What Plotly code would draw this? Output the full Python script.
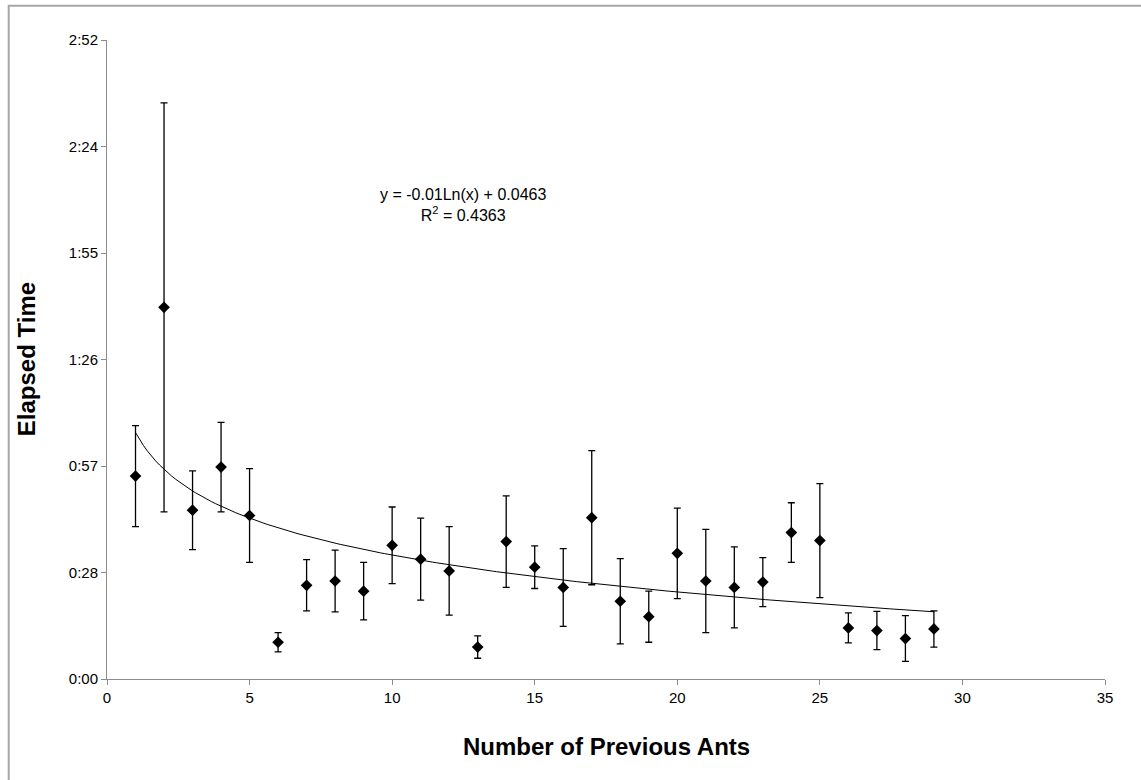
import numpy as np
import plotly.graph_objects as go

# Number of previous ants
ants = list(range(1, 30))
# Mean elapsed time (fraction of a day, shown as h:mm)
elapsed = [0.0381, 0.0698, 0.0317, 0.0398, 0.0307, 0.0069, 0.0176, 0.0184, 0.0165,
           0.0251, 0.0225, 0.0203, 0.0060, 0.0258, 0.0210, 0.0172, 0.0303, 0.0146,
           0.0117, 0.0236, 0.0184, 0.0172, 0.0182, 0.0275, 0.0260, 0.0096, 0.0091,
           0.0076, 0.0094]
# Error bar half-lengths
err = [0.0095, 0.0384, 0.0074, 0.0084, 0.0088, 0.0018, 0.0048, 0.0058, 0.0054,
       0.0072, 0.0077, 0.0083, 0.0021, 0.0086, 0.0040, 0.0073, 0.0126, 0.0080,
       0.0048, 0.0085, 0.0097, 0.0076, 0.0046, 0.0056, 0.0107, 0.0028, 0.0036,
       0.0043, 0.0034]

# Logarithmic trendline shown on the chart
trend_a = -0.01
trend_b = 0.0463
trend_label = "y = -0.01Ln(x) + 0.0463<br>R<sup>2</sup> = 0.4363"

y_tickvals = [0, 0.02, 0.04, 0.06, 0.08, 0.10, 0.12]
y_ticktext = ["0:00", "0:28", "0:57", "1:26", "1:55", "2:24", "2:52"]
x_tickvals = [0, 5, 10, 15, 20, 25, 30, 35]

FONT = "Liberation Sans, Arial, sans-serif"

tx = np.linspace(1, 29, 200)
ty = trend_a * np.log(tx) + trend_b

fig = go.Figure()
fig.add_trace(go.Scatter(
    x=tx, y=ty, mode="lines",
    line=dict(color="black", width=1),
    hoverinfo="skip", showlegend=False,
))
fig.add_trace(go.Scatter(
    x=ants, y=elapsed, mode="markers",
    marker=dict(symbol="diamond", size=9, color="black"),
    error_y=dict(type="data", array=err, visible=True,
                 color="black", thickness=1.3, width=3.5),
    showlegend=False,
))

axis_color = "#8c8c8c"
fig.update_layout(
    width=1141, height=780,
    margin=dict(l=107, r=36, t=40, b=101),
    paper_bgcolor="white", plot_bgcolor="white",
    font=dict(family=FONT, color="black", size=15),
    xaxis=dict(range=[0, 35], tickvals=x_tickvals, showgrid=False, zeroline=False,
               showline=True, linecolor=axis_color, linewidth=1,
               ticks="outside", ticklen=5, tickcolor=axis_color,
               tickfont=dict(size=15, color="black")),
    yaxis=dict(range=[0, 0.12], tickvals=y_tickvals, ticktext=y_ticktext,
               showgrid=False, zeroline=False,
               showline=True, linecolor=axis_color, linewidth=1,
               ticks="outside", ticklen=5, tickcolor=axis_color,
               tickfont=dict(size=15, color="black")),
    annotations=[
        dict(text="<b>Number of Previous Ants</b>", xref="paper", yref="paper",
             x=0.5, y=-0.106, xanchor="center", yanchor="middle",
             showarrow=False, font=dict(size=24, family=FONT)),
        dict(text="<b>Elapsed Time</b>", xref="paper", yref="paper",
             x=-0.0805, y=0.5, xanchor="center", yanchor="middle",
             textangle=-90, showarrow=False,
             font=dict(size=24, family=FONT)),
        dict(text=trend_label, xref="x", yref="y", x=12.5, y=0.089,
             xanchor="center", yanchor="middle",
             showarrow=False, font=dict(size=16, family=FONT), align="center"),
    ],
    shapes=[
        dict(type="rect", xref="paper", yref="paper",
             x0=-0.0985, x1=1.06, y0=-0.2, y1=1.0535,
             line=dict(color="#a6a6a6", width=2), layer="below"),
    ],
)

fig.write_html("out.html",
               config={"displayModeBar": False},
               post_script="document.body.style.margin='0';document.body.style.overflow='hidden';")
